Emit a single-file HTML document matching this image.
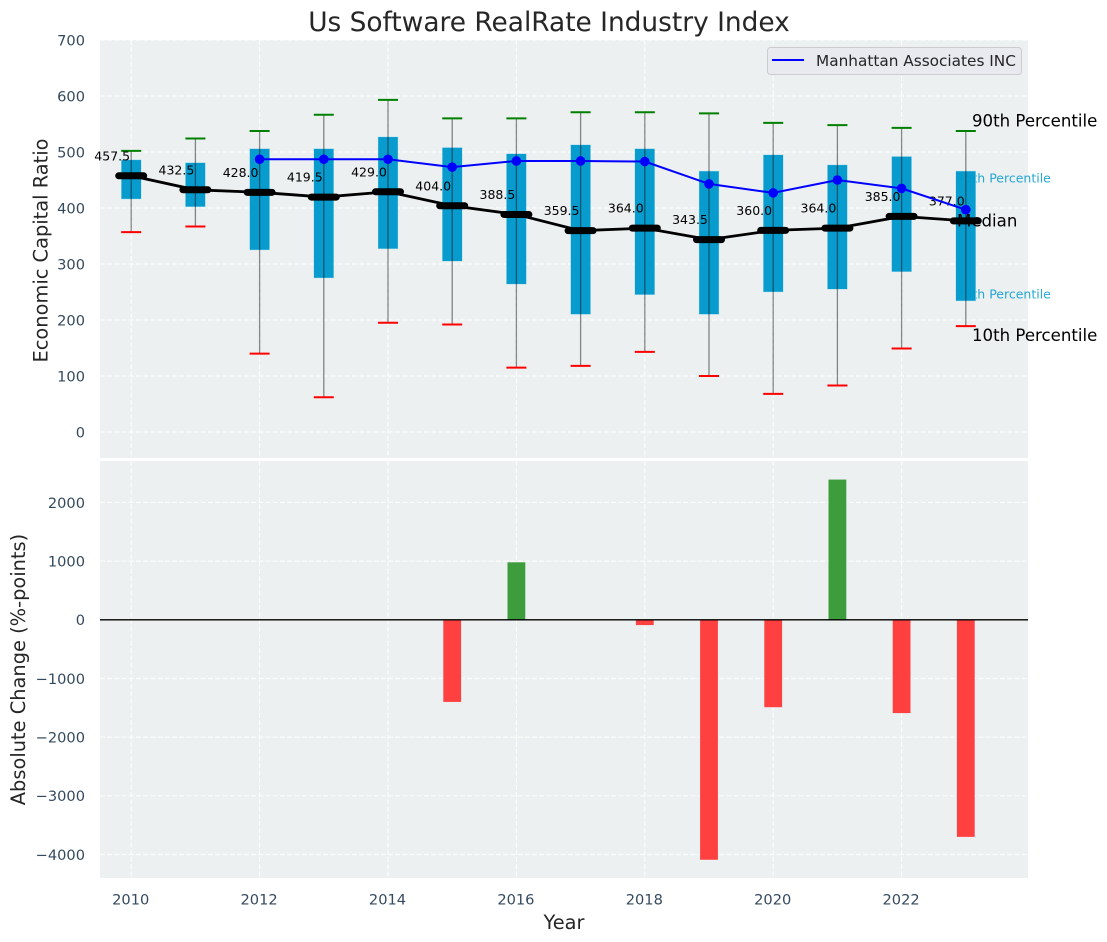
<!DOCTYPE html>
<html>
<head>
<meta charset="utf-8">
<title>Us Software RealRate Industry Index</title>
<style>
html,body{margin:0;padding:0;background:#fff;width:1107px;height:942px;overflow:hidden}
svg{display:block}
text{font-family:"DejaVu Sans","Liberation Sans",sans-serif}
</style>
</head>
<body>
<svg id="chart" xmlns="http://www.w3.org/2000/svg" width="1107" height="942" viewBox="0 0 1107 942"></svg>
<script>
const years = [2010,2011,2012,2013,2014,2015,2016,2017,2018,2019,2020,2021,2022,2023];
const p10 = [357,367,140,62,195,192,115,118,143,100,68,83,149,189];
const p25 = [416,402,325,275,327,305,264,210,245,210,250,255,286,234];
const medians = [457.5,432.5,428,419.5,429,404,388.5,359.5,364,343.5,360,364,385,377];
const p75 = [486,481,506,506,527,508,497,513,506,466,495,477,492,466];
const p90 = [502,524,537.5,566.5,593,560,560,571,571,569,552,548,543,537.5];
const companyYears = [2012,2013,2014,2015,2016,2017,2018,2019,2020,2021,2022,2023];
const companyValues = [487,487,487,473,484,484,483,443,427,450,435,397];
const changeYears = [2015,2016,2018,2019,2020,2021,2022,2023];
const changeValues = [-1400,980,-90,-4090,-1490,2390,-1590,-3700];
const topTicks = [0,100,200,300,400,500,600,700];
const bottomTicks = [-4000,-3000,-2000,-1000,0,1000,2000];
const xTicks = [2010,2012,2014,2016,2018,2020,2022];

const svg = document.getElementById('chart');
const NS = 'http://www.w3.org/2000/svg';
const panelL = 100, panelR = 1028, topT = 40, topB = 458, botT = 461, botB = 878;
const x = y => 131.2 + (y - 2010) * 64.2;
const yTop = v => 432 - v * 0.56;
const yBot = v => 619.8 - v * 0.05867;

function make(tag, attrs, text) {
  const el = document.createElementNS(NS, tag);
  for (const k in attrs) el.setAttribute(k, attrs[k]);
  if (text !== undefined) el.textContent = text;
  svg.appendChild(el);
  return el;
}
const fmtTick = v => (v < 0 ? '\u2212' + Math.abs(v) : String(v));
const TICK = '#34495e';
const GRID = {stroke:'#fff', 'stroke-opacity':0.8, 'stroke-width':1.2, 'stroke-dasharray':'5 2.2'};
let el;

el = make('rect', {x:panelL, y:topT, width:panelR-panelL, height:topB-topT, fill:'#ecf0f1'});


el = make('rect', {x:panelL, y:botT, width:panelR-panelL, height:botB-botT, fill:'#ecf0f1'});



function drawGrid() {
  xTicks.forEach(t => {
    let g = make('line', Object.assign({x1:x(t), x2:x(t), y1:topT, y2:topB}, GRID));
    
    
    g = make('line', Object.assign({x1:x(t), x2:x(t), y1:botT, y2:botB}, GRID));
    
    
  });
  topTicks.forEach(t => {
    const g = make('line', Object.assign({x1:panelL, x2:panelR, y1:yTop(t), y2:yTop(t)}, GRID));
    
    
  });
  bottomTicks.forEach(t => {
    const g = make('line', Object.assign({x1:panelL, x2:panelR, y1:yBot(t), y2:yBot(t)}, GRID));
    
    
  });
}

drawGrid();

el = make('text', {x:956.5, y:182.5, 'font-size':12.5, fill:'#0099cc', 'fill-opacity':0.85}, '75th Percentile');


el = make('text', {x:956.5, y:298.5, 'font-size':12.5, fill:'#0099cc', 'fill-opacity':0.85}, '25th Percentile');



years.forEach((yr, i) => {
  const b = make('rect', {x:x(yr)-10, y:yTop(p75[i]), width:20, height:yTop(p25[i])-yTop(p75[i]), fill:'#0099cc', 'fill-opacity':0.97, stroke:'#bfe3ef', 'stroke-width':0.4});
  
  
});

years.forEach((yr, i) => {
  let m = make('line', {x1:x(yr), x2:x(yr), y1:yTop(p90[i]), y2:yTop(p10[i]), stroke:'#000', 'stroke-opacity':0.45, 'stroke-width':1.3});
  
  
  m = make('line', {x1:x(yr)-10, x2:x(yr)+10, y1:yTop(p90[i]), y2:yTop(p90[i]), stroke:'#008000', 'stroke-width':2});
  
  
  m = make('line', {x1:x(yr)-10, x2:x(yr)+10, y1:yTop(p10[i]), y2:yTop(p10[i]), stroke:'#ff0000', 'stroke-width':2});
  
  
});

el = make('polyline', {points:years.map((yr,i)=>x(yr)+','+yTop(medians[i])).join(' '), fill:'none', stroke:'#000', 'stroke-width':2.8});



years.forEach((yr, i) => {
  const m = make('line', {x1:x(yr)-12.5, x2:x(yr)+12.5, y1:yTop(medians[i]), y2:yTop(medians[i]), stroke:'#000', 'stroke-width':7, 'stroke-linecap':'round'});
  
  
  const t = make('text', {x:x(yr)-19, y:yTop(medians[i])-15.5, 'font-size':12.5, fill:'#000', 'text-anchor':'middle'}, medians[i].toFixed(1));
  
  
});

el = make('polyline', {points:companyYears.map((yr,i)=>x(yr)+','+yTop(companyValues[i])).join(' '), fill:'none', stroke:'#0000ff', 'stroke-width':2});


companyYears.forEach((yr, i) => {
  const c = make('circle', {cx:x(yr), cy:yTop(companyValues[i]), r:4.8, fill:'#0000ff'});
  
  
});

el = make('text', {x:972, y:126.5, 'font-size':16.6, fill:'#000'}, '90th Percentile');


el = make('text', {x:957, y:226.5, 'font-size':16.6, fill:'#000'}, 'Median');


el = make('text', {x:972, y:341, 'font-size':16.6, fill:'#000'}, '10th Percentile');



changeYears.forEach((yr, i) => {
  const v = changeValues[i];
  const y0 = Math.min(yBot(0), yBot(v));
  const r = make('rect', {x:x(yr)-8.9, y:y0, width:17.8, height:Math.abs(yBot(v)-yBot(0)), fill:v >= 0 ? '#3d9d3d' : '#ff4040'});
  
  
});
el = make('line', {x1:panelL, x2:panelR, y1:yBot(0), y2:yBot(0), stroke:'#000', 'stroke-width':1.4});



topTicks.forEach(t => {
  const l = make('text', {x:85, y:yTop(t)+5.3, 'font-size':14.6, fill:TICK, 'text-anchor':'end'}, fmtTick(t));
  
  
});
bottomTicks.forEach(t => {
  const l = make('text', {x:85, y:yBot(t)+5.3, 'font-size':14.6, fill:TICK, 'text-anchor':'end'}, fmtTick(t));
  
  
});
xTicks.forEach(t => {
  const l = make('text', {x:x(t)-0.5, y:904.5, 'font-size':14.6, fill:TICK, 'text-anchor':'middle'}, String(t));
  
  
});

el = make('text', {x:549, y:31, 'font-size':26.4, fill:'#262626', 'text-anchor':'middle'}, 'Us Software RealRate Industry Index');


el = make('text', {x:564, y:929, 'font-size':19.4, fill:'#262626', 'text-anchor':'middle'}, 'Year');


el = make('text', {x:0, y:0, 'font-size':19.4, fill:'#262626', 'text-anchor':'middle', transform:'translate(47.5,250.5) rotate(-90)'}, 'Economic Capital Ratio');


el = make('text', {x:0, y:0, 'font-size':19.4, fill:'#262626', 'text-anchor':'middle', transform:'translate(25,669.5) rotate(-90)'}, 'Absolute Change (%-points)');



el = make('rect', {x:767.5, y:47.5, width:254, height:27, rx:3, fill:'#e8eaf0', stroke:'#cccccc', 'stroke-width':1});


el = make('line', {x1:772, x2:804, y1:60, y2:60, stroke:'#0000ff', 'stroke-width':2});


el = make('text', {x:816, y:66, 'font-size':15.3, fill:'#262626'}, 'Manhattan Associates INC');


</script>
</body>
</html>
